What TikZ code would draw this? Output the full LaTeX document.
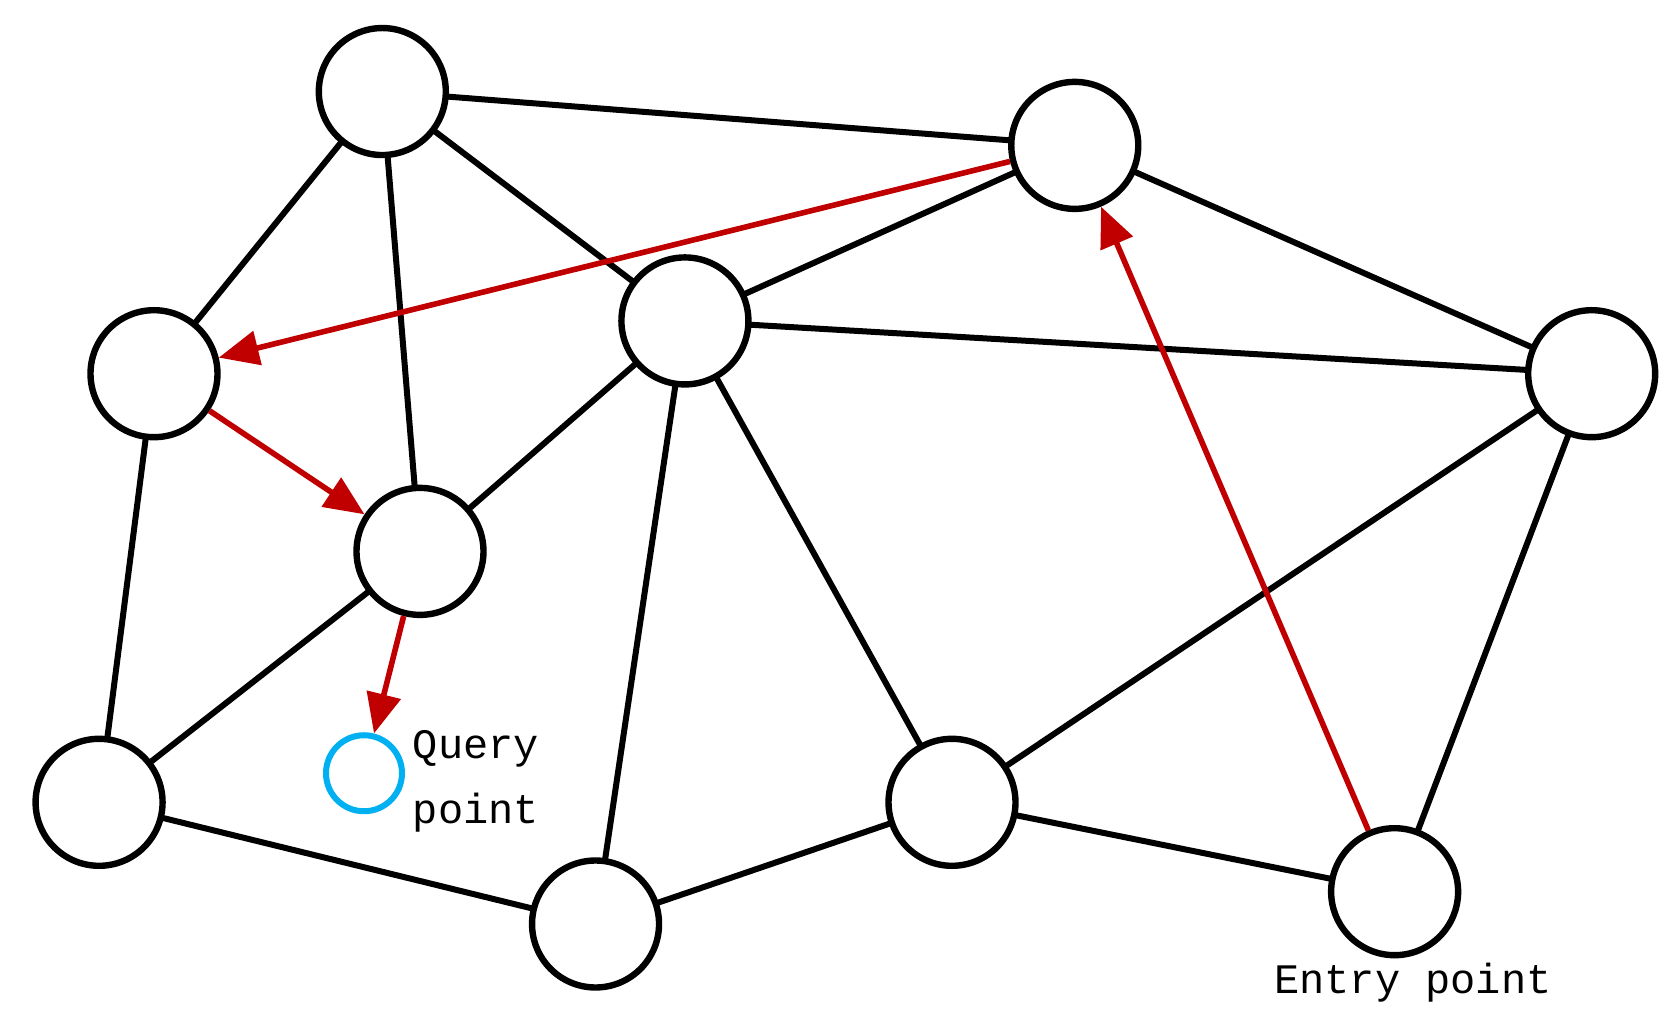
\documentclass[tikz,border=0pt]{standalone}
\usepackage{fontspec}
\setmainfont{Liberation Mono}
\usetikzlibrary{arrows.meta}
\begin{document}
\begin{tikzpicture}[x=0.5385pt,y=-0.5385pt,
 nd/.style={circle,draw=black,line width=3.2pt,minimum size=63.5pt,inner sep=0pt,fill=white},
 ed/.style={line width=3pt,black},
 ar/.style={line width=2.8pt,draw={rgb,255:red,192;green,0;blue,0},-{Triangle[length=20pt,width=17pt]},fill={rgb,255:red,192;green,0;blue,0}},
 lb/.style={font=\fontsize{21}{26}\selectfont,inner sep=0pt}]
\useasboundingbox (0,0) rectangle (1560,961);
\coordinate (A) at (355,85); \coordinate (B) at (998,135);
\coordinate (C) at (143,347); \coordinate (D) at (636,298);
\coordinate (E) at (1478,347); \coordinate (F) at (390,512);
\coordinate (G) at (92,745); \coordinate (H) at (553,858);
\coordinate (I) at (884,745); \coordinate (J) at (1295,828);
\foreach \u/\v in {A/B,A/C,A/F,A/D,B/D,B/E,C/G,D/E,D/F,D/H,D/I,E/I,E/J,F/G,G/H,H/I,I/J}
  \draw[ed] (\u) -- (\v);
\foreach \n in {A,B,C,D,E,F,G,H,I,J} \node[nd] (n\n) at (\n) {};
\node[circle,draw={rgb,255:red,0;green,176;blue,240},line width=3pt,minimum size=38pt,inner sep=0pt] (q) at (338,718) {};
\draw[ar] (nJ) -- (nB);
\draw[ar] (nB) -- (nC);
\draw[ar] (nC) -- (nF);
\draw[ar] (nF) -- (q);
\node[lb,anchor=west] (t1) at (383,695) {Query};
\node[lb,anchor=west] (t2) at (383,755) {point};
\node[lb] (t3) at (1312,912) {Entry point};
\end{tikzpicture}
\end{document}
